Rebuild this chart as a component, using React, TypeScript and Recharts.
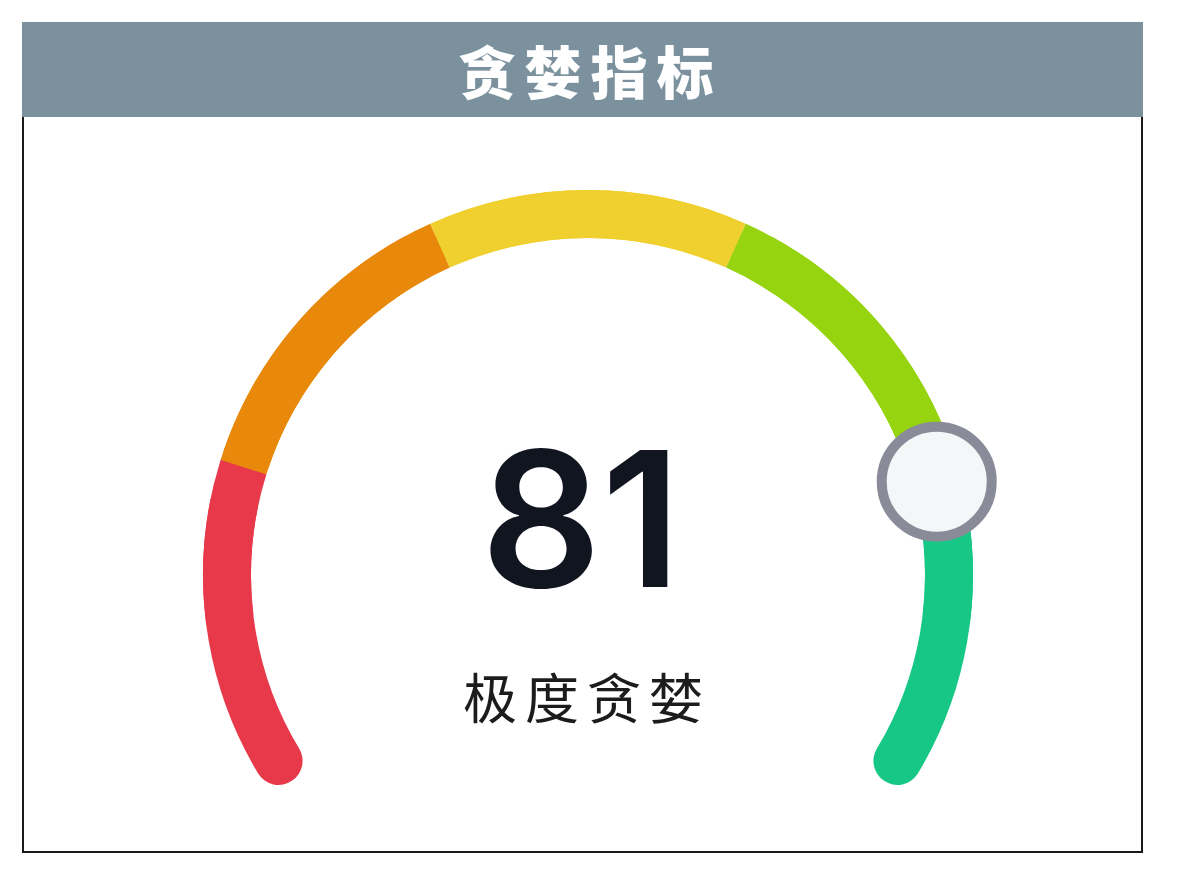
import React from 'react';
import { PieChart, Pie, Cell } from 'recharts';

// gauge scale and bands
const GAUGE_MIN = 0;
const GAUGE_MAX = 100;
const bandEdges = [0, 20, 40, 60, 80, 100];
const bandColors = ['#e8394a', '#e8890c', '#f0d02e', '#95d40e', '#17c785'];
const gaugeValue = 81;
const gaugeLabel = '极度贪婪';
const titleText = '贪婪指标';

const START_ANGLE = 211;
const END_ANGLE = -31;
const CAP_INSET = 10; // part of the end bands drawn with rounded caps only

const INNER_R = 337;
const OUTER_R = 385;
const CAP_R = (OUTER_R - INNER_R) / 2;
const CAP_DEG = ((CAP_R / ((INNER_R + OUTER_R) / 2)) * 180) / Math.PI;
const CX = 564;
const CY = 458;

const angleOf = (v: number) =>
  START_ANGLE + ((END_ANGLE - START_ANGLE) * (v - GAUGE_MIN)) / (GAUGE_MAX - GAUGE_MIN);

const bandData = bandEdges.slice(1).map((edge, i) => ({
  name: `band-${i}`,
  value: edge - bandEdges[i],
  color: bandColors[i],
}));

// square-ended overlay, trimmed at both ends so only the outer caps stay round
const overlayData = bandData.map((b, i) => ({
  ...b,
  value: i === 0 || i === bandData.length - 1 ? b.value - CAP_INSET : b.value,
}));

const knobData = [
  { name: 'value', value: gaugeValue - GAUGE_MIN },
  { name: 'rest', value: GAUGE_MAX - gaugeValue },
];

const renderKnob = (props: any) => {
  if (props.index !== 0) return <g key={`k-${props.index}`} />;
  const { cx, cy, innerRadius, outerRadius, endAngle } = props;
  const r = (innerRadius + outerRadius) / 2;
  const rad = (-endAngle * Math.PI) / 180;
  return (
    <circle
      key="knob"
      cx={cx + r * Math.cos(rad)}
      cy={cy + r * Math.sin(rad)}
      r={55}
      fill="#f5f6f8"
      stroke="#898b98"
      strokeWidth={10}
    />
  );
};

export default function App() {
  return (
    <div style={{ padding: '14px 0 0 14px' }}>
      <div style={{ width: 1121 }}>
        <div
          style={{
            height: 95,
            background: '#7b929e',
            color: '#fff',
            fontFamily: '"Noto Sans CJK SC", sans-serif',
            fontWeight: 900,
            fontSize: 57,
            letterSpacing: 9,
            lineHeight: '95px',
            textAlign: 'center',
            paddingLeft: 16,
            boxSizing: 'border-box',
          }}
        >
          {titleText}
        </div>
        <div
          style={{
            border: '2px solid #1a1a1a',
            borderTop: 'none',
            background: '#fff',
            height: 736,
            boxSizing: 'border-box',
          }}
        >
          <PieChart width={1117} height={734} margin={{ top: 0, right: 0, bottom: 0, left: 0 }}>
            {/* rounded layer: only its outer ends remain visible */}
            <Pie
              data={bandData}
              dataKey="value"
              cx={CX}
              cy={CY}
              innerRadius={INNER_R}
              outerRadius={OUTER_R}
              startAngle={START_ANGLE + CAP_DEG}
              endAngle={END_ANGLE - CAP_DEG}
              cornerRadius={CAP_R}
              stroke="none"
              isAnimationActive={false}
            >
              {bandData.map((b, i) => (
                <Cell key={`c-${i}`} fill={b.color} stroke="none" />
              ))}
            </Pie>
            <Pie
              data={overlayData}
              dataKey="value"
              cx={CX}
              cy={CY}
              innerRadius={INNER_R}
              outerRadius={OUTER_R}
              startAngle={angleOf(GAUGE_MIN + CAP_INSET)}
              endAngle={angleOf(GAUGE_MAX - CAP_INSET)}
              stroke="none"
              isAnimationActive={false}
            >
              {overlayData.map((b, i) => (
                <Cell key={`o-${i}`} fill={b.color} stroke="none" />
              ))}
            </Pie>
            <Pie
              data={knobData}
              dataKey="value"
              cx={CX}
              cy={CY}
              innerRadius={INNER_R}
              outerRadius={OUTER_R}
              startAngle={START_ANGLE}
              endAngle={END_ANGLE}
              fill="none"
              stroke="none"
              label={renderKnob}
              labelLine={false}
              isAnimationActive={false}
            >
              {knobData.map((_, i) => (
                <Cell key={`k-${i}`} fill="none" stroke="none" />
              ))}
            </Pie>
            <text
              x={CX - 7}
              y={470}
              textAnchor="middle"
              fontFamily="Inter, sans-serif"
              fontWeight={600}
              fontSize={188}
              fill="#111520"
            >
              {gaugeValue}
            </text>
            <text
              x={CX - 1}
              y={602}
              textAnchor="middle"
              fontFamily='"Noto Sans CJK SC", sans-serif'
              fontSize={54}
              letterSpacing={8}
              fill="#1c1c1c"
            >
              {gaugeLabel}
            </text>
          </PieChart>
        </div>
      </div>
    </div>
  );
}
